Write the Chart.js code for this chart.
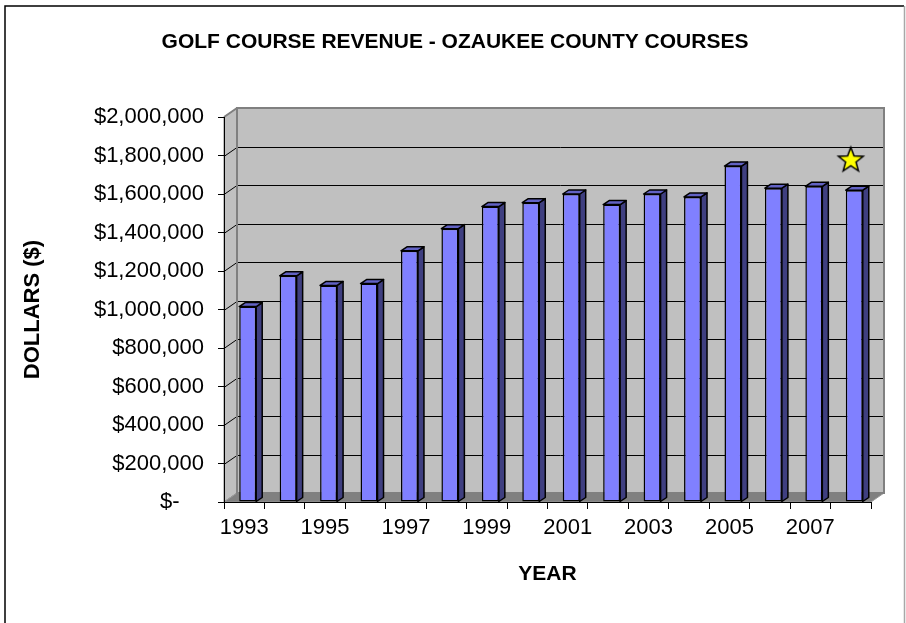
<!DOCTYPE html>
<html>
<head>
<meta charset="utf-8">
<title>Golf Course Revenue</title>
<script src="https://cdn.jsdelivr.net/npm/chart.js@4.4.1/dist/chart.umd.min.js"></script>
<style>
    html, body { margin: 0; padding: 0; background: #fff; }
    #wrap { width: 906px; height: 623px; }
</style>
</head>
<body>
<div id="wrap"><canvas id="revenueChart" width="906" height="623"></canvas></div>
<script>
// Data
const years = ['1993', '1994', '1995', '1996', '1997', '1998', '1999', '2000',
               '2001', '2002', '2003', '2004', '2005', '2006', '2007', '2008'];
const revenue = [1015000, 1175000, 1125000, 1135000, 1305000, 1420000, 1535000, 1555000,
                 1600000, 1545000, 1600000, 1585000, 1745000, 1630000, 1640000, 1620000];
// star marker sitting above the last year
const starMarker = [null, null, null, null, null, null, null, null,
                    null, null, null, null, null, null, null, 1780000];
const yMin = 0;
const yMax = 2000000;
const yStep = 200000;

const FONT = "'Liberation Sans', Arial, sans-serif";

// depth of the fake 3D walls / bars
const WALL_DX = 13, WALL_DY = 9;
const BAR_DX = 6, BAR_DY = 4;
const BAR_SHIFT = 3.5;

const colors = {
    wall: '#c0c0c0',
    wallEdge: '#808080',
    floor: '#808080',
    front: '#8080ff',
    side: '#3f3f80',
    top: '#6262c4',
    star: '#ffff00'
};

function makeStar(r) {
    const size = Math.ceil(r * 2 + 4);
    const c = document.createElement('canvas');
    c.width = size; c.height = size;
    const g = c.getContext('2d');
    const cx = size / 2, cy = size / 2 + 1;
    g.beginPath();
    for (let i = 0; i < 10; i++) {
        const rad = i % 2 === 0 ? r : r * 0.42;
        const ang = -Math.PI / 2 + i * Math.PI / 5;
        const px = cx + rad * Math.cos(ang), py = cy + rad * Math.sin(ang);
        if (i === 0) g.moveTo(px, py); else g.lineTo(px, py);
    }
    g.closePath();
    g.fillStyle = colors.star;
    g.fill();
    g.lineWidth = 1.5;
    g.strokeStyle = '#000';
    g.stroke();
    return c;
}

function poly(ctx, pts) {
    ctx.beginPath();
    ctx.moveTo(pts[0][0], pts[0][1]);
    for (let i = 1; i < pts.length; i++) ctx.lineTo(pts[i][0], pts[i][1]);
    ctx.closePath();
}

// background, frame, walls, floor and gridlines
const wallPlugin = {
    id: 'wall3d',
    beforeDraw(chart) {
        const { ctx, chartArea: a, scales: { y } } = chart;
        const W = chart.width, H = chart.height;
        ctx.save();
        ctx.fillStyle = '#fff';
        ctx.fillRect(0, 0, W, H);

        ctx.lineWidth = 1.5;
        ctx.strokeStyle = '#000';
        ctx.beginPath();
        ctx.moveTo(5, H); ctx.lineTo(5, 6); ctx.lineTo(W - 2, 6);
        ctx.stroke();
        ctx.strokeStyle = '#a8a8a8';
        ctx.beginPath();
        ctx.moveTo(W - 1.5, 6); ctx.lineTo(W - 1.5, H);
        ctx.stroke();

        const top = y.getPixelForValue(yMax);
        const base = y.getPixelForValue(yMin);
        const L = a.left, R = a.right;

        // back wall
        ctx.fillStyle = colors.wall;
        ctx.fillRect(L + WALL_DX, top - WALL_DY, R - L, base - top);
        // left wall
        poly(ctx, [[L, top], [L + WALL_DX, top - WALL_DY], [L + WALL_DX, base - WALL_DY], [L, base]]);
        ctx.fill();
        ctx.lineWidth = 1;
        ctx.strokeStyle = colors.wallEdge;
        ctx.stroke();
        // floor
        poly(ctx, [[L, base], [L + WALL_DX, base - WALL_DY], [R + WALL_DX, base - WALL_DY], [R, base]]);
        ctx.fillStyle = colors.floor;
        ctx.fill();
        ctx.strokeStyle = '#9a9a9a';
        ctx.stroke();

        // gridlines on left and back wall
        ctx.strokeStyle = '#000';
        ctx.lineWidth = 1;
        y.ticks.forEach(t => {
            if (t.value <= yMin || t.value >= yMax) return;
            const yy = Math.round(y.getPixelForValue(t.value)) + 0.5;
            ctx.beginPath();
            ctx.moveTo(L, yy);
            ctx.lineTo(L + WALL_DX, yy - WALL_DY);
            ctx.lineTo(R + WALL_DX, yy - WALL_DY);
            ctx.stroke();
        });

        // back wall border
        ctx.strokeStyle = colors.wallEdge;
        ctx.lineWidth = 2;
        ctx.strokeRect(L + WALL_DX, top - WALL_DY, R - L, base - top);
        ctx.beginPath();
        ctx.moveTo(L, top); ctx.lineTo(L + WALL_DX, top - WALL_DY);
        ctx.stroke();
        ctx.restore();
    }
};

// side and top faces of the bars
const barPlugin = {
    id: 'bar3d',
    beforeDatasetDraw(chart, args) {
        if (args.index !== 0) return;
        chart.ctx.save();
        chart.ctx.translate(BAR_SHIFT, 0);
    },
    afterDatasetDraw(chart, args) {
        if (args.index !== 0) return;
        const ctx = chart.ctx;
        ctx.lineWidth = 1.5;
        ctx.strokeStyle = '#000';
        ctx.lineJoin = 'round';
        args.meta.data.forEach(bar => {
            const { x, y, width, base } = bar.getProps(['x', 'y', 'width', 'base'], true);
            const l = x - width / 2, r = x + width / 2;
            poly(ctx, [[r, y], [r + BAR_DX, y - BAR_DY], [r + BAR_DX, base - BAR_DY], [r, base]]);
            ctx.fillStyle = colors.side;
            ctx.fill();
            ctx.stroke();
            poly(ctx, [[l, y], [l + BAR_DX, y - BAR_DY], [r + BAR_DX, y - BAR_DY], [r, y]]);
            ctx.fillStyle = colors.top;
            ctx.fill();
            ctx.stroke();
        });
        ctx.restore();
    }
};

function moneyLabel(v) {
    if (v === 0) return '$-    ';
    return '$' + v.toLocaleString('en-US');
}

const ctx = document.getElementById('revenueChart').getContext('2d');
Chart.defaults.font.family = FONT;
Chart.defaults.color = '#000';

new Chart(ctx, {
    type: 'bar',
    data: {
        labels: years,
        datasets: [
            {
                label: 'Revenue',
                data: revenue,
                backgroundColor: colors.front,
                borderColor: '#000',
                borderWidth: 1.5,
                borderSkipped: false,
                categoryPercentage: 1,
                barPercentage: 0.42
            },
            {
                type: 'line',
                label: 'Note',
                data: starMarker,
                showLine: false,
                pointStyle: makeStar(13),
                pointRadius: 13
            }
        ]
    },
    options: {
        responsive: false,
        devicePixelRatio: 1,
        animation: false,
        layout: { padding: { left: 4, right: 0, top: 0, bottom: 0 } },
        plugins: {
            legend: { display: false },
            tooltip: { enabled: false },
            title: {
                display: true,
                text: 'GOLF COURSE REVENUE - OZAUKEE COUNTY COURSES',
                color: '#000',
                font: { size: 21, weight: 'bold', lineHeight: 1.2 },
                padding: { top: 29.4, bottom: 62.4 }
            }
        },
        scales: {
            x: {
                offset: true,
                grid: { display: true, drawOnChartArea: false, drawTicks: true, tickLength: 7, color: '#000', offset: true },
                border: { display: true, color: '#000', width: 1 },
                ticks: {
                    autoSkip: false,
                    maxRotation: 0,
                    padding: 6,
                    font: { size: 22 },
                    callback: (val, i) => (i % 2 === 0 ? years[i] : '')
                },
                title: {
                    display: true,
                    text: 'YEAR',
                    font: { size: 21, weight: 'bold', lineHeight: 1.2 },
                    padding: { top: 0, bottom: 36.4 }
                },
                afterFit: s => { s.height = 121; }
            },
            y: {
                min: yMin,
                max: yMax,
                ticks: {
                    stepSize: yStep,
                    padding: 14,
                    font: { size: 22 },
                    callback: v => moneyLabel(v)
                },
                grid: { display: true, drawOnChartArea: false, drawTicks: true, tickLength: 6, color: '#000' },
                border: { display: true, color: '#000', width: 1 },
                title: {
                    display: true,
                    text: 'DOLLARS ($)',
                    font: { size: 22, weight: 'bold', lineHeight: 1.2 },
                    padding: { top: 15.8, bottom: 0 }
                },
                afterFit: s => { s.width = 220; }
            },
            // empty right-hand gutter so the title centres on the full width
            gutter: {
                type: 'linear',
                position: 'right',
                display: true,
                ticks: { display: false },
                grid: { display: false },
                border: { display: false },
                afterFit: s => { s.width = 35; }
            }
        }
    },
    plugins: [wallPlugin, barPlugin]
});
</script>
</body>
</html>
